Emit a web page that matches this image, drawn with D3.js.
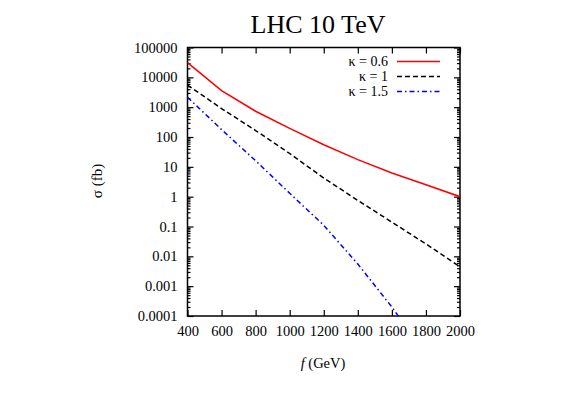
<!DOCTYPE html>
<html>
<head>
<meta charset="utf-8">
<script src="https://cdn.jsdelivr.net/npm/d3@7"></script>
<style>
  body { margin: 0; background: #fff; }
  text { font-family: "Liberation Serif", "DejaVu Serif", serif; }
</style>
</head>
<body>
<div id="vis"></div>
<script>
// data
var fValues = [400, 600, 800, 1000, 1200, 1400, 1600, 1800, 2000];
var sigmaK06 = [31000, 3600, 730, 195, 55, 17.5, 6.2, 2.5, 1.0];
var sigmaK1 = [5500, 900, 165, 28, 4.2, 0.75, 0.14, 0.026, 0.0045];
var sigmaK15 = [2150, 177, 16, 1.3, 0.11, 0.0055, 0.0002, 0.000005, 0.0000002];
var seriesLabels = ["κ = 0.6", "κ = 1", "κ = 1.5"];
var xTicks = [400, 600, 800, 1000, 1200, 1400, 1600, 1800, 2000];
var yTicks = [0.0001, 0.001, 0.01, 0.1, 1, 10, 100, 1000, 10000, 100000];
var yTickLabels = ["0.0001", "0.001", "0.01", "0.1", "1", "10", "100", "1000", "10000", "100000"];

var W = 566, H = 396;
var margin = {top: 47.5, right: 106, bottom: 80, left: 187.5},
    width = W - margin.left - margin.right,
    height = H - margin.top - margin.bottom;

var svg = d3.select("#vis").append("svg")
    .attr("width", W)
    .attr("height", H);

// title
svg.append("text")
    .attr("x", 318).attr("y", 33)
    .attr("text-anchor", "middle")
    .style("font-size", "26px")
    .text("LHC 10 TeV");

var g = svg.append("g")
    .attr("transform", "translate(" + margin.left + "," + margin.top + ")");

var x = d3.scaleLinear().domain([400, 2000]).range([0, width]);
var y = d3.scaleLog().domain([0.0001, 100000]).range([height, 0]);

// clip so the blue line stops at the bottom
g.append("clipPath").attr("id", "clip")
  .append("rect").attr("width", width).attr("height", height);

// minor y ticks
var minor = [];
yTicks.slice(0, -1).forEach(function(d) {
    for (var k = 2; k <= 9; k++) minor.push(d * k);
});

// axes: bottom, top, left, right (inward ticks)
g.append("g").attr("transform", "translate(0," + height + ")")
    .call(d3.axisBottom(x).tickValues(xTicks).tickSize(-6).tickPadding(10).tickFormat(d3.format("d")));
g.append("g")
    .call(d3.axisTop(x).tickValues(xTicks).tickSize(-6).tickFormat(""));
g.append("g")
    .call(d3.axisLeft(y).tickValues(yTicks).tickSize(-6).tickPadding(10)
      .tickFormat(function(d, i) { return yTickLabels[i]; }));
g.append("g").attr("transform", "translate(" + width + ",0)")
    .call(d3.axisRight(y).tickValues(yTicks).tickSize(-6).tickFormat(""));
g.append("g")
    .call(d3.axisLeft(y).tickValues(minor).tickSize(-3).tickFormat(""));
g.append("g").attr("transform", "translate(" + width + ",0)")
    .call(d3.axisRight(y).tickValues(minor).tickSize(-3).tickFormat(""));

g.selectAll(".domain").remove();
g.selectAll(".tick line").attr("stroke", "#000").attr("stroke-width", 1.2);
g.selectAll(".tick text")
    .style("font-family", "'Liberation Serif', serif")
    .style("font-size", "14.5px")
    .attr("fill", "#000");

// frame
g.append("rect")
    .attr("width", width).attr("height", height)
    .attr("fill", "none").attr("stroke", "#000").attr("stroke-width", 1.5);

// lines
var line = d3.line()
    .x(function(d, i) { return x(fValues[i]); })
    .y(function(d) { return y(d); });

var styles = [
    {color: "#ff0000", dash: null},
    {color: "#000000", dash: "5,3"},
    {color: "#0000ff", dash: "5,3,1.5,3"}
];
var allSeries = [sigmaK06, sigmaK1, sigmaK15];

allSeries.forEach(function(s, i) {
    g.append("path")
        .datum(s)
        .attr("clip-path", "url(#clip)")
        .attr("d", line)
        .attr("fill", "none")
        .attr("stroke", styles[i].color)
        .attr("stroke-width", 1.5)
        .attr("stroke-dasharray", styles[i].dash);
});

// legend
var legY = [14, 29, 44];
seriesLabels.forEach(function(lab, i) {
    g.append("text")
        .attr("x", 200.5).attr("y", legY[i])
        .attr("dy", "0.33em")
        .attr("text-anchor", "end")
        .style("font-size", "14px")
        .text(lab);
    g.append("line")
        .attr("x1", 209.5).attr("x2", 252.5)
        .attr("y1", legY[i]).attr("y2", legY[i])
        .attr("stroke", styles[i].color)
        .attr("stroke-width", 1.5)
        .attr("stroke-dasharray", styles[i].dash);
});

// axis labels
svg.append("text")
    .attr("transform", "translate(102,181) rotate(-90)")
    .attr("text-anchor", "middle")
    .style("font-size", "15px")
    .text("σ (fb)");

var xl = svg.append("text")
    .attr("x", 323).attr("y", 368)
    .attr("text-anchor", "middle")
    .style("font-size", "14.5px");
xl.append("tspan").style("font-style", "italic").text("f");
xl.append("tspan").text(" (GeV)");
</script>
</body>
</html>
